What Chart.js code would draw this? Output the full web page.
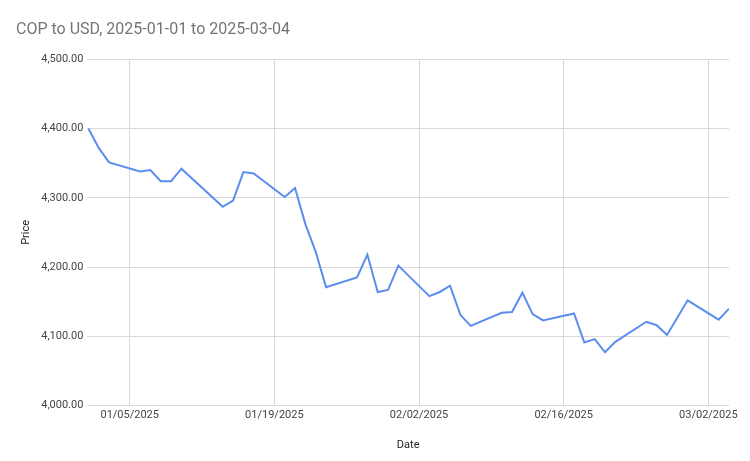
<!DOCTYPE html>
<html>
<head>
<meta charset="UTF-8">
<style>
  body { margin: 0; background: #fff; }
  #wrap { width: 750px; height: 461px; }
</style>
</head>
<body>
<div id="wrap"><canvas id="chart"></canvas></div>
<script src="https://cdn.jsdelivr.net/npm/chart.js"></script>
<script>
// days since 2025-01-01
const days = [0,1,2,5,6,7,8,9,13,14,15,16,19,20,21,22,23,26,27,28,29,30,33,34,35,36,37,40,41,42,43,44,47,48,49,50,51,54,55,56,58,61,62];
const prices = [4400,4372,4351,4338,4340,4324,4324,4342,4287,4296,4337,4335,4301,4314,4262,4222,4171,4185,4218,4164,4167,4202,4158,4164,4173,4131,4115,4134,4135,4163,4132,4123,4133,4091,4096,4077,4092,4121,4116,4102,4152,4124,4140];
const tickDays = [4, 18, 32, 46, 60];
const tickLabels = ['01/05/2025', '01/19/2025', '02/02/2025', '02/16/2025', '03/02/2025'];

const font = { family: 'Roboto, Arial, sans-serif', size: 11 };

new Chart(document.getElementById('chart'), {
    type: 'line',
    data: {
        datasets: [{
            data: days.map((d, i) => ({ x: d, y: prices[i] })),
            borderColor: '#5b8def',
            borderWidth: 2,
            pointRadius: 0,
            tension: 0,
            fill: false
        }]
    },
    options: {
        responsive: true,
        maintainAspectRatio: false,
        animation: false,
        layout: { padding: { left: 16, right: 21, top: 0, bottom: 5 } },
        plugins: {
            legend: { display: false },
            tooltip: { enabled: false },
            title: {
                display: true,
                text: 'COP to USD, 2025-01-01 to 2025-03-04',
                align: 'start',
                color: '#757575',
                font: { family: 'Roboto, Arial, sans-serif', size: 16, weight: 'normal' },
                padding: { top: 20, bottom: 20 }
            }
        },
        scales: {
            x: {
                type: 'linear',
                min: -0.1,
                max: 62,
                afterBuildTicks: axis => { axis.ticks = tickDays.map(v => ({ value: v })); },
                ticks: {
                    color: '#444',
                    font: font,
                    maxRotation: 0,
                    callback: v => tickLabels[tickDays.indexOf(v)]
                },
                grid: { color: '#d9d9d9', drawTicks: false },
                border: { display: false },
                title: { display: true, text: 'Date', color: '#222', font: font, padding: { top: 14 } }
            },
            y: {
                min: 4000,
                max: 4500,
                afterBuildTicks: axis => { axis.ticks = [4000,4100,4200,4300,4400,4500].map(v => ({ value: v })); },
                ticks: {
                    color: '#444',
                    font: font,
                    padding: 4,
                    callback: v => v.toLocaleString('en-US', { minimumFractionDigits: 2 })
                },
                grid: { color: '#d9d9d9', drawTicks: false },
                border: { display: false },
                title: { display: true, text: 'Price', color: '#222', font: font }
            }
        }
    }
});
</script>
</body>
</html>
